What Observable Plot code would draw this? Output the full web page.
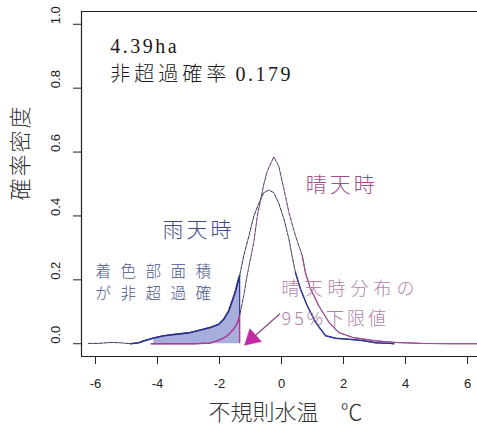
<!DOCTYPE html>
<html>
<head>
<meta charset="utf-8">
<script src="https://cdn.jsdelivr.net/npm/d3@7"></script>
<script src="https://cdn.jsdelivr.net/npm/@observablehq/plot@0.6"></script>
<style>
  html, body { margin: 0; padding: 0; background: #fff; overflow: hidden; }
  #chart svg { display: block; }
</style>
</head>
<body>
<div id="chart"></div>
<script>
// Density of irregular water temperature: rainy vs. sunny days (4.39 ha site)
const rainX = [-6.23, -5.9, -5.5, -5.2, -4.87, -4.6, -4.44, -4.12, -3.8, -3.37, -2.94, -2.61, -2.29, -2.02, -1.86, -1.7, -1.59, -1.48, -1.4, -1.35, -1.22, -1.05, -0.89, -0.73, -0.57, -0.41, -0.25, -0.09, 0.08, 0.24, 0.34, 0.45, 0.61, 0.83, 1.1, 1.42, 1.74, 2.17, 2.6, 3.03, 3.5, 3.62];
const rainY = [0.001, 0.001, 0.004, 0.003, 0.0, 0.003, 0.009, 0.018, 0.025, 0.030, 0.035, 0.043, 0.051, 0.061, 0.077, 0.103, 0.134, 0.166, 0.197, 0.213, 0.275, 0.338, 0.400, 0.440, 0.473, 0.481, 0.473, 0.440, 0.390, 0.327, 0.275, 0.223, 0.171, 0.119, 0.067, 0.025, 0.017, 0.014, 0.010, 0.003, 0.001, 0.0];

const sunX = [-4.2, -3.5, -2.8, -2.3, -2.08, -1.86, -1.75, -1.54, -1.42, -1.35, -1.22, -1.1, -0.89, -0.78, -0.57, -0.46, -0.25, -0.09, 0.08, 0.24, 0.45, 0.67, 0.77, 0.94, 1.2, 1.53, 1.85, 2.28, 3.03, 3.68, 4.5, 5.5, 6.45];
const sunY = [0, 0, 0, 0.002, 0.009, 0.018, 0.025, 0.046, 0.065, 0.088, 0.150, 0.218, 0.320, 0.400, 0.500, 0.540, 0.585, 0.556, 0.483, 0.410, 0.338, 0.275, 0.223, 0.171, 0.119, 0.067, 0.035, 0.020, 0.009, 0.004, 0.001, 0, 0];

// 95% lower limit of the sunny-day distribution
const cutoff = -1.35;
const shadeFrom = -4.2;

const xTicks = [-6, -4, -2, 0, 2, 4, 6];
const yTicks = [0, 0.2, 0.4, 0.6, 0.8, 1.0];

// annotation anchors (data units)
const arrowTail = [-0.05, 0.094];
const arrowTip = [-1.18, -0.003];

const rain = rainX.map((x, i) => ({x, y: rainY[i]}));
const sun = sunX.map((x, i) => ({x, y: sunY[i]}));
const shaded = rain.filter(d => d.x >= shadeFrom - 0.1 && d.x <= cutoff);
const sunAtCut = sun.find(d => d.x === cutoff).y;
const rainAtCut = rain.find(d => d.x === cutoff).y;

// arrowhead sits just behind the tip, along the shaft
const headPos = [arrowTip[0] + 0.2 * (arrowTail[0] - arrowTip[0]),
                 arrowTip[1] + 0.2 * (arrowTail[1] - arrowTip[1])];

const cjk = "Noto Sans CJK JP";

const chart = Plot.plot({
  width: 477,
  height: 432,
  marginLeft: 81,
  marginRight: 0,
  marginTop: 11,
  marginBottom: 76,
  style: {fontFamily: "Liberation Sans, Arial, sans-serif", fontSize: "13px", color: "#222", background: "#fff"},
  x: {domain: [-6.45, 6.32], ticks: xTicks, tickSize: 8, tickPadding: 14, tickFormat: d => String(d), label: null},
  y: {domain: [-0.04, 1.04], ticks: yTicks, tickSize: 8, tickFormat: () => "", label: null},
  marks: [
    // box (left, top, bottom)
    Plot.ruleX([-6.45], {stroke: "#222", strokeWidth: 1.2}),
    Plot.ruleY([1.04], {stroke: "#222", strokeWidth: 1.2}),
    Plot.ruleY([-0.04], {stroke: "#222", strokeWidth: 1.2}),

    // shaded non-exceedance area under the rainy-day curve
    Plot.areaY(shaded, {x: "x", y: "y", fill: "#a8aedb"}),

    // full density curves
    Plot.line(rain, {x: "x", y: "y", stroke: "#3a3656", strokeWidth: 1, strokeDasharray: "4,1.2"}),
    Plot.line(sun, {x: "x", y: "y", stroke: "#5a3a62", strokeWidth: 1, strokeDasharray: "4,1.2"}),

    // coloured tails
    Plot.line(rain.filter(d => d.x <= cutoff && d.x >= -4.9), {x: "x", y: "y", stroke: "#28318c", strokeWidth: 1.7}),
    Plot.line(rain.filter(d => d.x >= 0.45), {x: "x", y: "y", stroke: "#2d3794", strokeWidth: 1.4}),
    Plot.line(sun.filter(d => d.x <= cutoff), {x: "x", y: "y", stroke: "#b0359f", strokeWidth: 1.4}),
    Plot.line(sun.filter(d => d.x >= 0.6), {x: "x", y: "y", stroke: "#a8489c", strokeWidth: 1.1}),

    // cutoff marker
    Plot.ruleX([cutoff], {y1: 0, y2: sunAtCut, stroke: "#b0359f", strokeWidth: 1.4}),
    Plot.ruleX([cutoff], {y1: sunAtCut, y2: rainAtCut, stroke: "#28318c", strokeWidth: 1.2}),

    // arrow to the 95% lower limit
    Plot.link([0], {x1: () => arrowTail[0], y1: () => arrowTail[1], x2: () => arrowTip[0], y2: () => arrowTip[1], stroke: "#8e4a8a", strokeWidth: 1.3}),
    Plot.dot([headPos], {x: d => d[0], y: d => d[1], symbol: "triangle", r: 6.4, rotate: 228, fill: "#c02aa5", stroke: "#c02aa5", strokeWidth: 0.5}),

    // y tick labels (rotated)
    Plot.text(yTicks, {frameAnchor: "left", y: d => d, text: d => d.toFixed(1), rotate: -90, dx: -26, fill: "#222", fontSize: 13}),

    // axis titles
    Plot.text(["確率密度"], {frameAnchor: "left", y: () => 0.448, dx: -61, rotate: -90, fontSize: 22, fontFamily: cjk, fontWeight: 300, fill: "#333"}),
    Plot.text(["不規則水温　℃"], {frameAnchor: "bottom", x: () => 0.13, dy: 63, fontSize: 22, fontFamily: cjk, fontWeight: 300, fill: "#333"}),

    // header lines
    Plot.text(["4.39ha"], {x: () => -5.52, y: () => 0.93, textAnchor: "start", fontSize: 20, fill: "#1a1a1a"}),
    Plot.text(["非超過確率"], {x: () => -5.52, y: () => 0.843, textAnchor: "start", fontSize: 20, fontFamily: cjk, fontWeight: 300, fill: "#1a1a1a"}),
    Plot.text(["0.179"], {x: () => -1.48, y: () => 0.843, textAnchor: "start", fontSize: 20, fill: "#1a1a1a"}),

    // curve labels
    Plot.text(["晴天時"], {x: () => 1.94, y: () => 0.495, fontSize: 21, fontFamily: cjk, fontWeight: 300, fill: "#9b4f8d"}),
    Plot.text(["雨天時"], {x: () => -2.68, y: () => 0.354, fontSize: 21, fontFamily: cjk, fontWeight: 300, fill: "#3f4a85"}),
    Plot.text(["着色部面積"], {x: () => -6.0, y: () => 0.225, textAnchor: "start", fontSize: 15.5, fontFamily: cjk, fontWeight: 300, fill: "#4b5590"}),
    Plot.text(["が非超過確"], {x: () => -6.0, y: () => 0.157, textAnchor: "start", fontSize: 15.5, fontFamily: cjk, fontWeight: 300, fill: "#4b5590"}),
    Plot.text(["晴天時分布の"], {x: () => 0.0, y: () => 0.172, textAnchor: "start", fontSize: 18, fontFamily: cjk, fontWeight: 300, fill: "#b07fab"}),
    Plot.text(["95%下限値"], {x: () => 0.0, y: () => 0.076, textAnchor: "start", fontSize: 18, fontFamily: cjk, fontWeight: 300, fill: "#b07fab"})
  ]
});

// character spacing and typeface for the labels
const spacing = {
  "4.39ha": "2.5px", "0.179": "2.5px",
  "非超過確率": "4px", "晴天時": "3px", "雨天時": "3px",
  "着色部面積": "9.5px", "が非超過確": "9.5px",
  "晴天時分布の": "5px", "95%下限値": "3px", "確率密度": "2px"
};
const serifTexts = new Set(["4.39ha", "0.179"]);
d3.select(chart).selectAll("text").each(function () {
  const s = spacing[this.textContent];
  if (s) this.style.letterSpacing = s;
  if (serifTexts.has(this.textContent)) this.style.fontFamily = "'Liberation Serif', 'DejaVu Serif', serif";
});

document.getElementById("chart").appendChild(chart);
</script>
</body>
</html>
